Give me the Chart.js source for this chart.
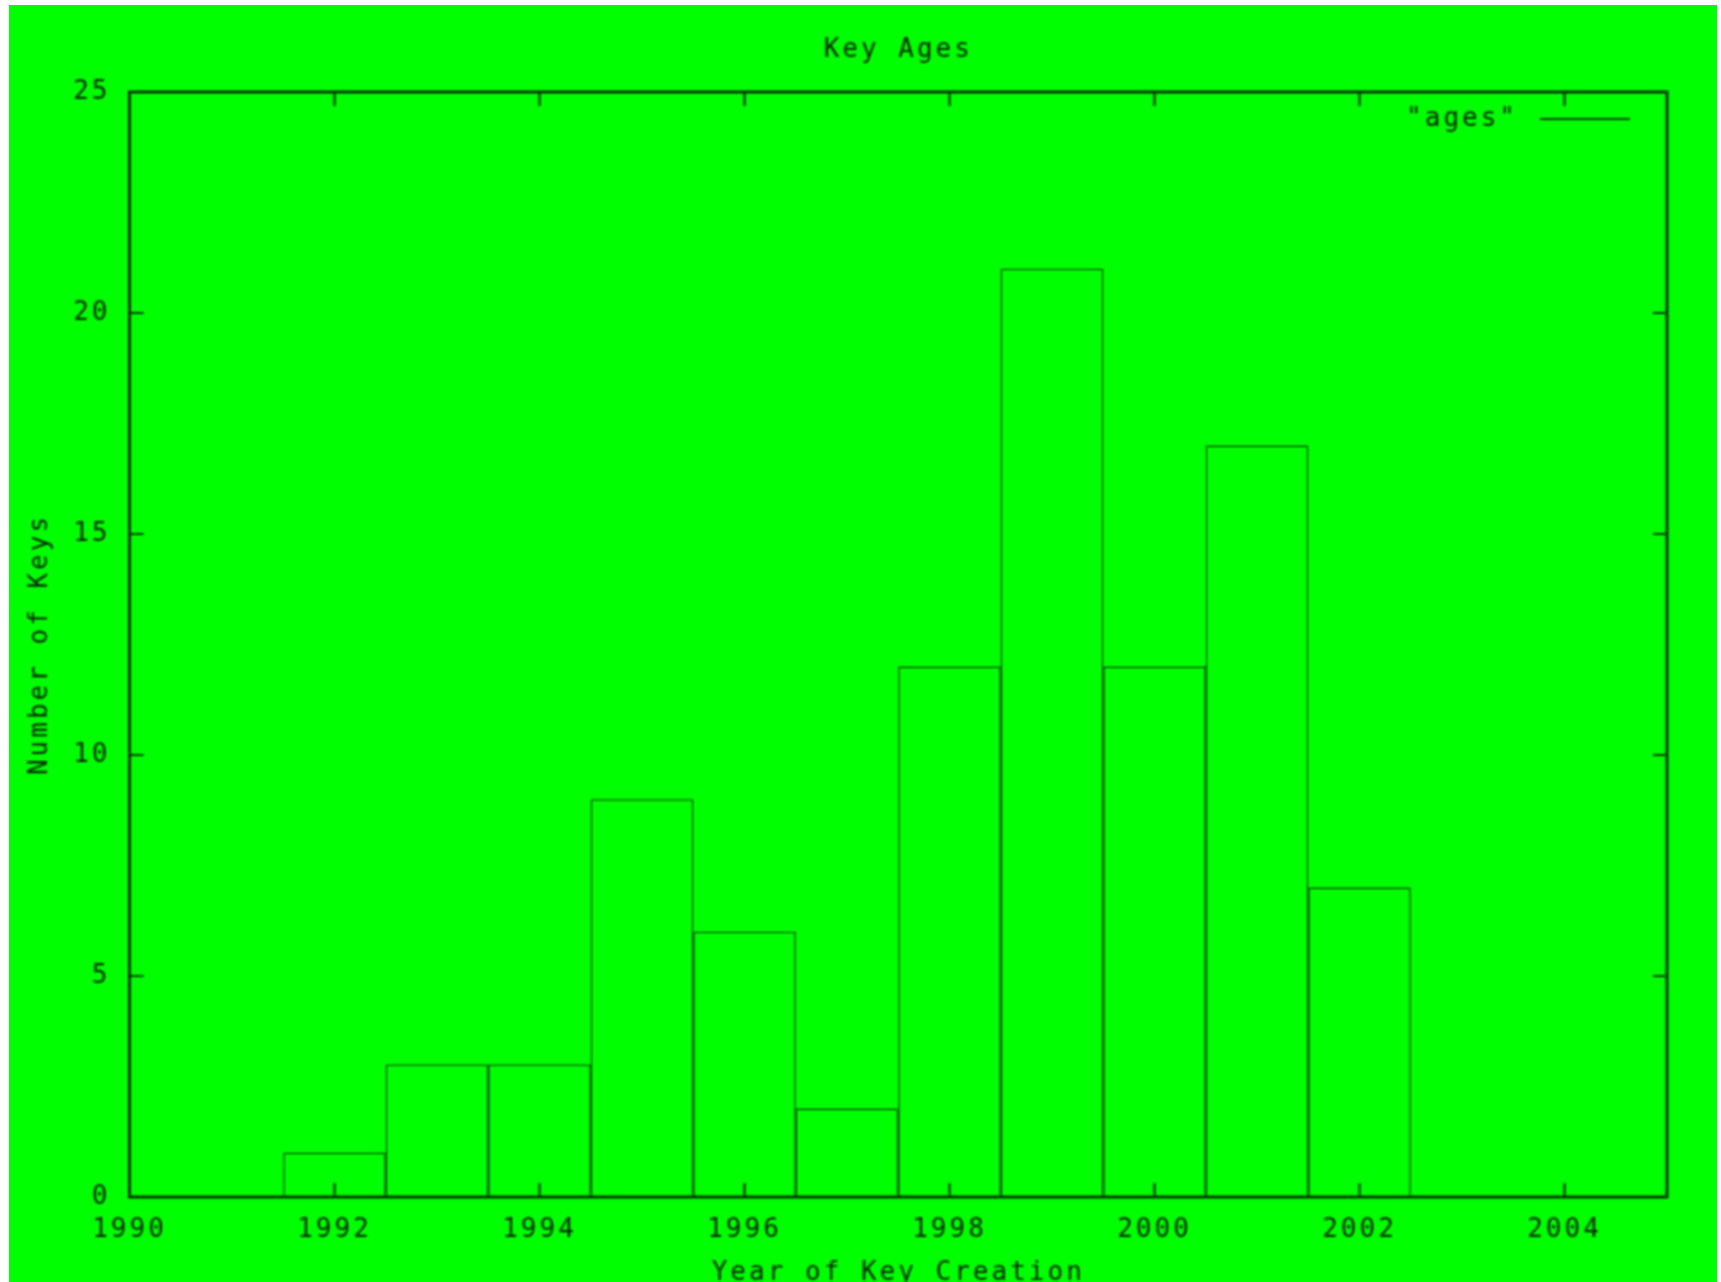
<!DOCTYPE html>
<html>
<head>
<meta charset="utf-8">
<title>Key Ages</title>
<script src="https://cdn.jsdelivr.net/npm/chart.js@4/dist/chart.umd.min.js"></script>
<style>
  html, body { margin: 0; padding: 0; background: #ffffff; width: 1721px; height: 1282px; overflow: hidden; }
  #frame { position: absolute; left: 9px; top: 5px; width: 1708px; height: 1277px; background: #00ff00; }
  #chart { display: block; filter: blur(1.2px); }
</style>
</head>
<body>
<div id="frame"><canvas id="chart" width="1708" height="1277"></canvas></div>
<script>
// Number of keys created in each year
const years = [1992, 1993, 1994, 1995, 1996, 1997, 1998, 1999, 2000, 2001, 2002];
const keyCounts = [1, 3, 3, 9, 6, 2, 12, 21, 12, 17, 7];

// Axis ticks
const xTickValues = [1990, 1992, 1994, 1996, 1998, 2000, 2002, 2004];
const yTickValues = [0, 5, 10, 15, 20, 25];

const lineColor = '#003200';
const textColor = '#002400';
const fontFamily = "'DejaVu Sans Mono', 'Liberation Mono', monospace";
const baseFont = { family: fontFamily, size: 26, lineHeight: 1, weight: 'normal' };
const tickLen = 14;

// Wider glyph spacing for every text drawn on the canvas
const spacedText = {
  id: 'spacedText',
  beforeUpdate(chart) { chart.ctx.letterSpacing = '3px'; },
  beforeDraw(chart) { chart.ctx.letterSpacing = '3px'; }
};

// Plot border plus inward ticks on all four sides
const plotFrame = {
  id: 'plotFrame',
  afterDatasetsDraw(chart) {
    const { ctx, chartArea: a, scales } = chart;
    ctx.save();
    ctx.strokeStyle = lineColor;
    ctx.lineWidth = 2.2;
    ctx.beginPath();
    scales.x.ticks.forEach(t => {
      const px = scales.x.getPixelForValue(t.value);
      ctx.moveTo(px, a.bottom); ctx.lineTo(px, a.bottom - tickLen);
      ctx.moveTo(px, a.top); ctx.lineTo(px, a.top + tickLen);
    });
    scales.y.ticks.forEach(t => {
      const py = scales.y.getPixelForValue(t.value);
      ctx.moveTo(a.left, py); ctx.lineTo(a.left + tickLen, py);
      ctx.moveTo(a.right, py); ctx.lineTo(a.right - tickLen, py);
    });
    ctx.stroke();
    ctx.lineWidth = 3;
    ctx.strokeRect(a.left, a.top, a.right - a.left, a.bottom - a.top);
    ctx.restore();
  }
};

// Key in the top right corner: label text followed by a line sample
const cornerKey = {
  id: 'cornerKey',
  afterDraw(chart) {
    const { ctx, chartArea: a } = chart;
    const ds = chart.data.datasets[0];
    const y = a.top + 27;
    ctx.save();
    ctx.letterSpacing = '3px';
    ctx.font = `normal ${baseFont.size}px ${fontFamily}`;
    ctx.fillStyle = textColor;
    ctx.textAlign = 'right';
    ctx.textBaseline = 'middle';
    ctx.fillText(ds.label, a.right - 149, y);
    ctx.strokeStyle = ds.borderColor;
    ctx.lineWidth = 2.2;
    ctx.beginPath();
    ctx.moveTo(a.right - 127, y);
    ctx.lineTo(a.right - 37, y);
    ctx.stroke();
    ctx.restore();
  }
};

new Chart(document.getElementById('chart'), {
  type: 'bar',
  data: {
    datasets: [{
      label: '"ages"',
      data: years.map((y, i) => ({ x: y, y: keyCounts[i] })),
      backgroundColor: 'rgba(0,0,0,0)',
      borderColor: lineColor,
      borderWidth: 1.3,
      barPercentage: 1,
      categoryPercentage: 1,
      inflateAmount: 0
    }]
  },
  options: {
    responsive: false,
    animation: false,
    events: [],
    layout: { padding: { left: 0, right: 50, top: 0, bottom: 0 } },
    scales: {
      x: {
        type: 'linear',
        min: 1990,
        max: 2005,
        offset: false,
        afterBuildTicks(scale) { scale.ticks = xTickValues.map(v => ({ value: v })); },
        afterFit(scale) { scale.height = 85; },
        grid: { display: false, drawTicks: false },
        border: { display: false },
        ticks: {
          padding: 20,
          color: textColor,
          font: baseFont,
          maxRotation: 0,
          autoSkip: false,
          callback: v => String(v)
        },
        title: {
          display: true,
          text: 'Year of Key Creation',
          color: textColor,
          font: baseFont,
          padding: { top: 0, bottom: -4 }
        }
      },
      y: {
        min: 0,
        max: 25,
        afterBuildTicks(scale) { scale.ticks = yTickValues.map(v => ({ value: v })); },
        afterFit(scale) { scale.width = 120.5; },
        grid: { display: false, drawTicks: false },
        border: { display: false },
        ticks: {
          padding: 19,
          color: textColor,
          font: baseFont,
          callback: v => String(v)
        },
        title: {
          display: true,
          text: 'Number of Keys',
          color: textColor,
          font: baseFont,
          padding: { top: 18, bottom: 0 }
        }
      }
    },
    plugins: {
      title: {
        display: true,
        text: 'Key Ages',
        color: textColor,
        font: baseFont,
        fullSize: false,
        padding: { top: 32, bottom: 29 }
      },
      legend: { display: false },
      tooltip: { enabled: false }
    }
  },
  plugins: [spacedText, plotFrame, cornerKey]
});
</script>
</body>
</html>
